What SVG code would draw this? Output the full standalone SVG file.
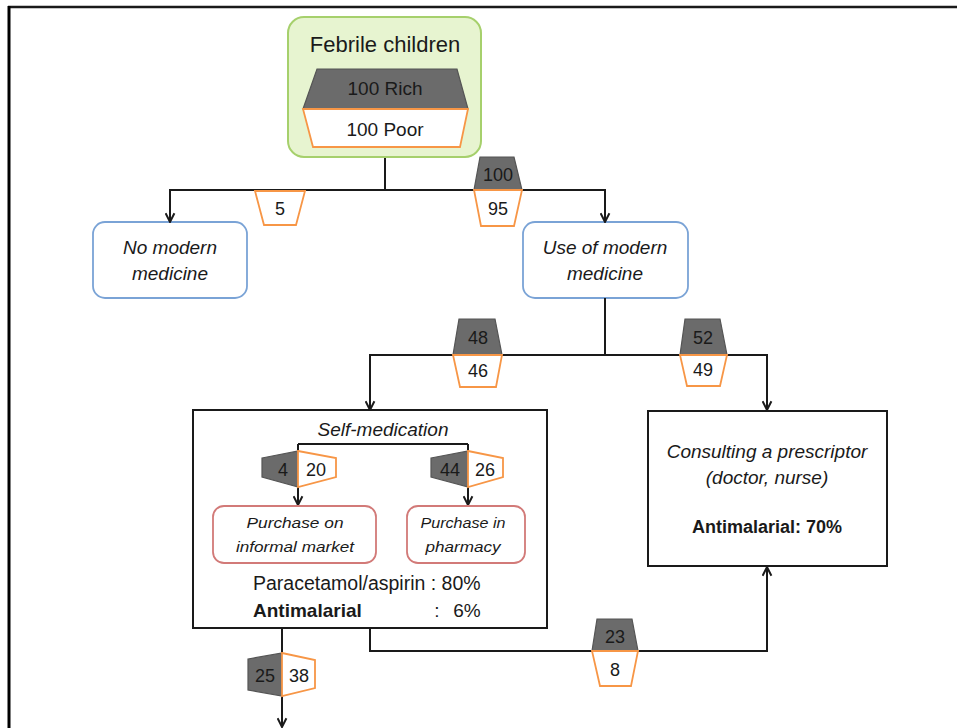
<svg xmlns="http://www.w3.org/2000/svg" width="957" height="728" viewBox="0 0 957 728">
<style>
text{font-family:"Liberation Sans",Arial,sans-serif;fill:#1a1a1a;text-anchor:middle}
.gr{fill:#6b6b6b;stroke:#555;stroke-width:1.2}
.og{fill:#fff;stroke:#f79646;stroke-width:1.8}
.bt{font-size:18px}
.it{font-style:italic;font-size:19px}
.sm{font-style:italic;font-size:15px}
.blue{fill:#fff;stroke:#7aa3d6;stroke-width:1.8}
.pink{fill:#fff;stroke:#d27a78;stroke-width:1.8}
.box{fill:#fff;stroke:#1a1a1a;stroke-width:2}
.ln{fill:none;stroke:#1a1a1a;stroke-width:2}
</style>
<defs>
<marker id="ar" viewBox="0 0 10 10" refX="9" refY="5" markerWidth="11" markerHeight="11" markerUnits="userSpaceOnUse" orient="auto">
<path d="M1,1 L9,5 L1,9" fill="none" stroke="#1a1a1a" stroke-width="1.8"/>
</marker>
</defs>
<rect width="957" height="728" fill="#fff"/>
<g id="frame">
<line x1="8" y1="7" x2="957" y2="7" stroke="#1a1a1a" stroke-width="2.5"/>
<line x1="9" y1="6" x2="9" y2="728" stroke="#000" stroke-width="3"/>
</g>
<g id="febrile">
<rect x="288" y="17" width="193" height="140" rx="16" fill="#e7f4d0" stroke="#a6d06c" stroke-width="2"/>
<text x="385" y="52" style="font-size:22px">Febrile children</text>
<polygon class="gr" points="317,69 457,69 468,109 303,109"/>
<text x="385" y="95" style="font-size:19px">100 Rich</text>
<polygon class="og" points="303,109 468,109 460,147 313,147"/>
<text x="385" y="136" style="font-size:19px">100 Poor</text>
</g>
<g id="no-modern">
<rect class="blue" x="93" y="222" width="154" height="76" rx="12"/>
<text class="it" x="170" y="254">No modern</text>
<text class="it" x="170" y="280">medicine</text>
</g>
<g id="use-modern">
<rect class="blue" x="523" y="222" width="165" height="76" rx="12"/>
<text class="it" x="605" y="254">Use of modern</text>
<text class="it" x="605" y="280">medicine</text>
</g>
<g id="self-medication">
<rect class="box" x="193" y="410" width="354" height="218"/>
<text class="it" x="383" y="436">Self-medication</text>
<text x="253" y="590" style="font-size:19.5px;text-anchor:start">Paracetamol/aspirin : 80%</text>
<text x="253" y="617" style="font-size:19px;font-weight:bold;text-anchor:start">Antimalarial</text>
<text x="437" y="617" style="font-size:19px">:</text>
<text x="467" y="617" style="font-size:19px">6%</text>
</g>
<g id="consulting">
<rect class="box" x="648" y="411" width="239" height="155"/>
<text class="it" x="767" y="458">Consulting a prescriptor</text>
<text class="it" x="767" y="484">(doctor, nurse)</text>
<text x="767" y="533" style="font-size:18px;font-weight:bold">Antimalarial: 70%</text>
</g>
<g id="connectors">
<path class="ln" d="M385,158 V190 H170 V222" marker-end="url(#ar)"/>
<path class="ln" d="M385,190 H605 V222" marker-end="url(#ar)"/>
<path class="ln" d="M605,298 V355 H370 V410" marker-end="url(#ar)"/>
<path class="ln" d="M605,355 H767 V410" marker-end="url(#ar)"/>
<path class="ln" d="M298,444 H468"/>
<path class="ln" d="M298,444 V505" marker-end="url(#ar)"/>
<path class="ln" d="M468,444 V505" marker-end="url(#ar)"/>
<path class="ln" d="M370,628 V651 H767 V567" marker-end="url(#ar)"/>
<path class="ln" d="M282,628 V727" marker-end="url(#ar)"/>
</g>
<g id="informal-market">
<rect class="pink" x="213" y="506" width="163" height="57" rx="11"/>
<text class="sm" x="295" y="528" textLength="97" lengthAdjust="spacingAndGlyphs">Purchase on</text>
<text class="sm" x="295" y="552" textLength="118" lengthAdjust="spacingAndGlyphs">informal market</text>
</g>
<g id="pharmacy">
<rect class="pink" x="407" y="506" width="118" height="57" rx="11"/>
<text class="sm" x="463" y="528" textLength="85" lengthAdjust="spacingAndGlyphs">Purchase in</text>
<text class="sm" x="463" y="552" textLength="75" lengthAdjust="spacingAndGlyphs">pharmacy</text>
</g>
<g id="badge-5">
<polygon class="og" points="255,191 305,191 296,225 264,225"/>
<text class="bt" x="280" y="215">5</text>
</g>
<g id="badge-100-95">
<polygon class="gr" points="480,157 514,157 522,190 474,190"/>
<text class="bt" x="498" y="181">100</text>
<polygon class="og" points="474,190 522,190 514,226 481,226"/>
<text class="bt" x="498" y="215">95</text>
</g>
<g id="badge-48-46">
<polygon class="gr" points="459,319 495,319 502,355 453,355"/>
<text class="bt" x="478" y="344">48</text>
<polygon class="og" points="453,355 502,355 496,387 460,387"/>
<text class="bt" x="478" y="377">46</text>
</g>
<g id="badge-52-49">
<polygon class="gr" points="685,319 720,319 727,355 680,355"/>
<text class="bt" x="703" y="344">52</text>
<polygon class="og" points="680,355 727,355 720,386 687,386"/>
<text class="bt" x="703" y="376">49</text>
</g>
<g id="badge-4-20">
<polygon class="gr" points="262,458 298,451 298,487 262,477"/>
<polygon class="og" points="298,451 336,458 336,477 298,487"/>
<text class="bt" x="283" y="476">4</text>
<text class="bt" x="316" y="476">20</text>
</g>
<g id="badge-44-26">
<polygon class="gr" points="431,458 468,451 468,487 431,477"/>
<polygon class="og" points="468,451 503,458 503,477 468,487"/>
<text class="bt" x="450" y="476">44</text>
<text class="bt" x="485" y="476">26</text>
</g>
<g id="badge-23-8">
<polygon class="gr" points="597,619 632,619 638,651 592,651"/>
<text class="bt" x="615" y="643">23</text>
<polygon class="og" points="592,651 638,651 631,686 600,686"/>
<text class="bt" x="615" y="676">8</text>
</g>
<g id="badge-25-38">
<polygon class="gr" points="248,659 282,653 282,696 248,690"/>
<polygon class="og" points="282,653 315,660 315,688 282,696"/>
<text class="bt" x="265" y="682">25</text>
<text class="bt" x="299" y="682">38</text>
</g>
</svg>
